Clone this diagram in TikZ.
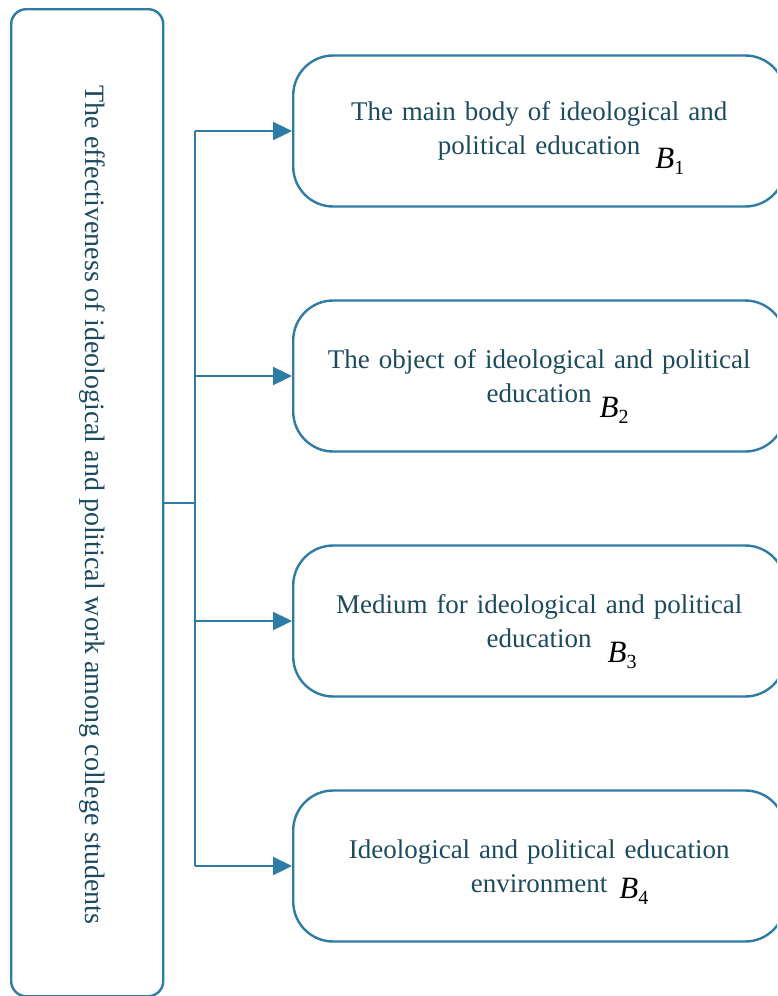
\documentclass[tikz,border=0pt]{standalone}
\usepackage{fontspec}
\setmainfont{Liberation Serif}
\usepackage{tikz}
\usetikzlibrary{arrows.meta}

\definecolor{boxline}{HTML}{2E7BA6}
\definecolor{boxtext}{HTML}{1C4A5E}

\tikzset{
  factor/.style={draw=boxline, line width=2.4pt, rounded corners=40pt,
    minimum width=492pt, minimum height=151pt, anchor=west,
    text width=440pt, align=center, text=boxtext,
    font=\fontsize{27}{34}\selectfont},
  link/.style={draw=boxline, line width=2.4pt},
  feed/.style={link, -{Triangle[length=19pt,width=18pt]}}
}

% #1 index, #2 gap before B, #3 drop below the line
\newcommand{\bsub}[3]{\rlap{\hspace{#2}\smash{\raisebox{-#3}{\color{black}%
  \fontsize{31}{31}\selectfont\textit{B}\raisebox{-6pt}{\fontsize{20}{20}\selectfont #1}}}}}

\begin{document}
\begin{tikzpicture}[x=1pt,y=-1pt]
        \useasboundingbox (0,0) rectangle (777,996);
        \clip (0,0) rectangle (777,996);

        % goal box on the left
        \node[draw=boxline, line width=2.4pt, rounded corners=15pt,
              minimum width=152pt, minimum height=987pt, anchor=north west] (goal) at (10,8) {};
        \node[rotate=-90, text=boxtext, font=\fontsize{28}{34}\selectfont]
              at (92,505) {The effectiveness of ideological and political work among college students};

        % the four factors
        \node[factor] (b1) at (292,131) {The main body of ideological and\\political education\bsub{1}{15pt}{14pt}};
        \node[factor] (b2) at (292,376) {The object of ideological and political\\education\bsub{2}{8pt}{15pt}};
        \node[factor] (b3) at (292,621) {Medium for ideological and political\\education\bsub{3}{16pt}{15pt}};
        \node[factor] (b4) at (292,866) {Ideological and political education\\environment\bsub{4}{12pt}{6pt}};

        % branching connector
        \coordinate (split) at (195,503);
        \draw[link] (goal.east |- split) -- (split);
        \draw[link] (split |- b1.west) -- (split |- b4.west);
        \foreach \b in {b1,b2,b3,b4}
            \draw[feed] (split |- \b.west) -- (\b.west);
    \end{tikzpicture}
\end{document}
